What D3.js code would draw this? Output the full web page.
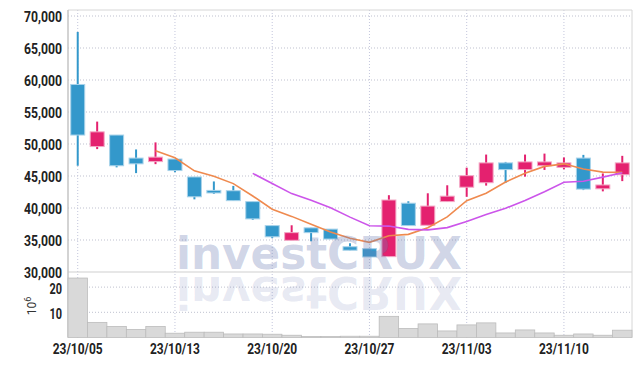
<!DOCTYPE html>
<html>
<head>
<meta charset="utf-8">
<script src="https://cdn.jsdelivr.net/npm/d3@7"></script>
<style>
  html, body { margin: 0; padding: 0; background: #fff; }
  svg { display: block; }
  .lbl { font-family: "Roboto", "Liberation Sans", sans-serif; }
</style>
</head>
<body>
<svg id="chart" width="642" height="366"></svg>
<script>
// ---- data ----
const dates = ["23/10/05","23/10/06","23/10/10","23/10/11","23/10/12","23/10/13",
  "23/10/16","23/10/17","23/10/18","23/10/19","23/10/20",
  "23/10/23","23/10/24","23/10/25","23/10/26","23/10/27",
  "23/10/30","23/10/31","23/11/01","23/11/02","23/11/03",
  "23/11/06","23/11/07","23/11/08","23/11/09","23/11/10",
  "23/11/13","23/11/14","23/11/15"];
const openV  = [59300,49600,51400,47800,47250,47650,44850,42750,42700,41000,37250,34950,36900,36700,33950,33650,32400,40750,37300,41000,43250,43950,47050,46000,46600,46350,47800,43000,45200];
const highV  = [67500,53500,51400,49150,50250,47650,44850,44150,43450,41000,37250,37300,36900,36700,34500,33650,42000,41050,42300,43550,46300,48350,47200,48350,48500,47900,48300,45400,48150];
const lowV   = [46600,49200,46350,45450,46850,45600,41350,42200,41150,38150,35300,34950,34800,35150,33400,32350,32400,37250,37300,41000,41750,43500,43900,44900,45950,46050,42800,42600,44200];
const closeV = [51400,51900,46600,46900,47950,45850,41750,42350,41150,38300,35500,36150,36150,35150,33400,32350,41250,37250,40300,41850,45050,47050,46000,47200,47200,47050,42950,43600,47050];
const ma5    = [null,null,null,null,48950,47840,45810,44960,43810,41880,39810,38690,37450,36250,35270,34640,35660,35880,36910,38600,41140,42300,44050,45430,46500,46900,46080,45600,45570];
const ma10   = [null,null,null,null,null,null,null,null,null,45415,43825,42250,41205,40030,38575,37225,37175,36665,36580,36935,37890,38980,39965,41170,42550,44020,44190,44825,45500];
const volume = [23.6,6.0,4.4,3.2,4.4,1.7,2.1,2.1,1.4,1.4,1.3,0.9,0.4,0.4,0.5,0.5,8.4,3.6,5.4,2.6,5.0,5.8,1.8,3.0,1.8,0.9,1.4,0.9,2.9];
const priceTicks = [30000,35000,40000,45000,50000,55000,60000,65000,70000];
const volTicks = [10,20];
const dateTickIdx = [0,5,10,15,20,25];

// ---- layout ----
const L = 68, R = 632, T = 10, priceBottom = 272, volBottom = 337.5;
const svg = d3.select("#chart");

const x = d3.scaleBand().domain(dates).range([L, R]).padding(0);
const cx = d => x(d) + x.bandwidth() / 2;
const y = d3.scaleLinear().domain([30000, 70000]).range([priceBottom, 16]);
const yv = d3.scaleLinear().domain([0, 26]).range([volBottom, priceBottom]);

const UP = "#e4216f", DOWN = "#3398cb";

// grid
const grid = svg.append("g");
grid.selectAll("line.h").data(priceTicks.filter(t => t > 30000)).join("line")
  .attr("x1", L).attr("x2", R).attr("y1", d => y(d)).attr("y2", d => y(d))
  .attr("stroke", "#bfc1cf").attr("stroke-dasharray", "1,2");
grid.selectAll("line.hv").data(volTicks).join("line")
  .attr("x1", L).attr("x2", R).attr("y1", d => yv(d)).attr("y2", d => yv(d))
  .attr("stroke", "#bfc1cf").attr("stroke-dasharray", "1,2");
grid.selectAll("line.v").data(dateTickIdx).join("line")
  .attr("x1", i => cx(dates[i])).attr("x2", i => cx(dates[i]))
  .attr("y1", T).attr("y2", volBottom)
  .attr("stroke", "#c3c6dc").attr("stroke-dasharray", "1,2");

// frame
svg.append("line").attr("x1", L).attr("x2", R).attr("y1", T).attr("y2", T).attr("stroke", "#d6d6d6");
svg.append("line").attr("x1", L).attr("x2", R).attr("y1", priceBottom).attr("y2", priceBottom).attr("stroke", "#cfcfcf").attr("stroke-width", 1.2);
svg.append("line").attr("x1", L).attr("x2", L).attr("y1", T).attr("y2", volBottom).attr("stroke", "#c4c4c4").attr("stroke-width", 1.5);
svg.append("line").attr("x1", R).attr("x2", R).attr("y1", T).attr("y2", volBottom).attr("stroke", "#d6d6d6");

// volume bars
svg.append("g").selectAll("rect").data(volume).join("rect")
  .attr("x", (d, i) => x(dates[i]))
  .attr("width", x.bandwidth())
  .attr("y", d => yv(d))
  .attr("height", d => volBottom - yv(d))
  .attr("fill", "#d9d9d9").attr("stroke", "#bcbcbc").attr("stroke-width", 0.8);

// candles
const cg = svg.append("g");
dates.forEach((d, i) => {
  const up = closeV[i] >= openV[i];
  const col = up ? UP : DOWN;
  const edge = up ? "#f3a9c6" : "#a9d3ea";
  const c = cx(d);
  cg.append("line").attr("x1", c).attr("x2", c)
    .attr("y1", y(highV[i])).attr("y2", y(lowV[i]))
    .attr("stroke", col).attr("stroke-width", 2);
  const top = y(Math.max(openV[i], closeV[i]));
  const bot = y(Math.min(openV[i], closeV[i]));
  cg.append("rect").attr("x", c - 7).attr("width", 14)
    .attr("y", top).attr("height", Math.max(bot - top, 1.5))
    .attr("fill", col).attr("stroke", edge).attr("stroke-width", 1);
});

// moving averages
const lineGen = d3.line().defined(d => d[1] != null).x(d => cx(d[0])).y(d => y(d[1]));
svg.append("path").datum(dates.map((d, i) => [d, ma5[i]])).attr("d", lineGen)
  .attr("fill", "none").attr("stroke", "#ef8a4f").attr("stroke-width", 1.6);
svg.append("path").datum(dates.map((d, i) => [d, ma10[i]])).attr("d", lineGen)
  .attr("fill", "none").attr("stroke", "#cc55ea").attr("stroke-width", 1.6);

// watermark
const wm = svg.append("g").attr("font-family", "DejaVu Sans, Liberation Sans, sans-serif").attr("font-weight", "bold");
wm.append("text").attr("x", 176).attr("y", 269).attr("font-size", 44)
  .attr("textLength", 286).attr("lengthAdjust", "spacingAndGlyphs")
  .attr("fill", "#6c7db3").attr("fill-opacity", 0.32).text("investCRUX");
wm.append("text").attr("x", 176).attr("y", 269).attr("font-size", 44)
  .attr("textLength", 286).attr("lengthAdjust", "spacingAndGlyphs")
  .attr("transform", "translate(0,546) scale(1,-1)")
  .attr("fill", "#6c7db3").attr("fill-opacity", 0.17).text("investCRUX");

// axes labels
const lab = svg.append("g").attr("class", "lbl").attr("fill", "#222").attr("font-size", 14).attr("font-weight", "bold");
lab.selectAll("text.p").data(priceTicks).join("text")
  .attr("x", 62).attr("y", d => y(d) + 6).attr("text-anchor", "end")
  .attr("textLength", 38).attr("lengthAdjust", "spacingAndGlyphs")
  .text(d => d3.format(",")(d));
lab.selectAll("text.v").data(volTicks).join("text")
  .attr("x", 62).attr("y", d => yv(d) + 6.5).attr("text-anchor", "end")
  .attr("textLength", 12.5).attr("lengthAdjust", "spacingAndGlyphs")
  .text(d => d);
lab.selectAll("text.d").data(dateTickIdx).join("text")
  .attr("x", i => cx(dates[i]) - 25).attr("y", 354)
  .attr("textLength", 50).attr("lengthAdjust", "spacingAndGlyphs")
  .text(i => dates[i]);

const unit = svg.append("text").attr("class", "lbl")
  .attr("transform", "translate(36,306) rotate(-90)")
  .attr("text-anchor", "middle").attr("font-size", 12).attr("fill", "#333");
unit.append("tspan").text("10");
unit.append("tspan").attr("dy", -5).attr("font-size", 9).text("6");
</script>
</body>
</html>
